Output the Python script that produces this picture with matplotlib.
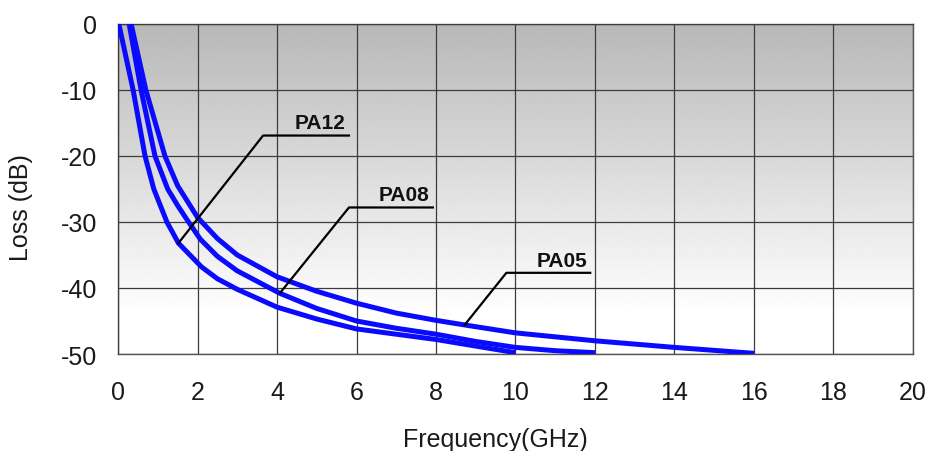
import numpy as np
import matplotlib
matplotlib.use("Agg")
import matplotlib.pyplot as plt

plt.rcParams['font.family'] = ['Liberation Sans', 'DejaVu Sans']
plt.rcParams['axes.unicode_minus'] = False

# Insertion loss vs. frequency for three attenuator parts
pa12_freq = [0.02, 0.38, 0.68, 0.90, 1.23, 1.52, 2.10, 2.50, 3.00, 4.00, 5.00, 6.00, 7.00, 8.00, 9.00, 10.00]
pa12_loss = [0, -10, -20, -25, -30, -33.2, -36.8, -38.6, -40.2, -42.9, -44.7, -46.2, -47.0, -47.8, -48.8, -49.8]

pa08_freq = [0.28, 0.58, 0.93, 1.25, 1.50, 1.73, 2.07, 2.50, 3.00, 4.07, 5.00, 6.00, 7.00, 8.00, 9.00, 10.00, 11.00, 12.00]
pa08_loss = [0, -10, -20, -25, -27.5, -29.6, -32.6, -35.2, -37.4, -40.8, -43.1, -45.0, -46.1, -47.0, -48.1, -49.0, -49.5, -49.8]

pa05_freq = [0.33, 0.70, 1.18, 1.50, 2.00, 2.50, 3.00, 4.00, 5.00, 6.00, 7.00, 8.00, 8.72, 10.00, 12.00, 14.00, 16.00]
pa05_loss = [0, -10, -20, -24.5, -29.3, -32.5, -35.0, -38.3, -40.5, -42.3, -43.8, -44.9, -45.6, -46.8, -48.0, -49.0, -49.9]

series_names = ["PA12", "PA08", "PA05"]

x_ticks = [0, 2, 4, 6, 8, 10, 12, 14, 16, 18, 20]
y_ticks = [0, -10, -20, -30, -40, -50]

fig = plt.figure(figsize=(9.30, 4.52), dpi=100)
ax = fig.add_axes([0.1269, 0.2146, 0.8548, 0.7301])

# vertical grey-to-white background
yy = np.linspace(0, -50, 400)
shade = np.clip(0.72 + (1.0 - 0.72) * (-yy / 44.0), 0, 1.0)
ax.imshow(shade[:, None], extent=[0, 20, -50, 0], aspect='auto', cmap='gray',
          vmin=0, vmax=1, origin='upper', zorder=0, interpolation='bilinear')

ax.set_xlim(0, 20)
ax.set_ylim(-50, 0)
ax.set_xticks(x_ticks)
ax.set_yticks(y_ticks)
ax.grid(True, color='#3c3c3c', linewidth=0.9, zorder=1)
ax.set_axisbelow(False)
ax.tick_params(length=0, colors='#1a1a1a')
ax.tick_params(axis='x', pad=19)
ax.tick_params(axis='y', pad=15)
for lab in ax.get_xticklabels() + ax.get_yticklabels():
    lab.set_family(['Liberation Sans Narrow', 'Liberation Sans', 'DejaVu Sans'])
    lab.set_fontsize(18)
for s in ax.spines.values():
    s.set_color('#555555')
    s.set_linewidth(1.0)

curves = [(pa12_freq, pa12_loss), (pa08_freq, pa08_loss), (pa05_freq, pa05_loss)]
for f, l in curves:
    ax.plot(f, l, color='#0a0aff', linewidth=3.6, solid_capstyle='butt',
            solid_joinstyle='round', zorder=3)

# leader lines: (tip frequency on the curve, elbow x, elbow y, end x)
leaders = [(1.52, 3.65, -16.9, 5.81),
           (4.07, 5.81, -27.8, 7.92),
           (8.72, 9.77, -37.7, 11.88)]
for name, (f, l), (tip, ex, ey, endx) in zip(series_names, curves, leaders):
    ty = np.interp(tip, f, l)
    ax.plot([tip, ex, endx], [ty, ey, ey], color='black', linewidth=1.6, zorder=4)
    ax.text(endx - 0.08, ey + 1.1, name, ha='right', va='baseline',
            fontsize=15, fontweight='bold', color='#111111', zorder=5)

ax.set_xlabel("Frequency(GHz)", fontsize=18, color='#1a1a1a')
ax.set_ylabel("Loss (dB)", fontsize=18, color='#1a1a1a')
ax.xaxis.set_label_coords(0.475, -0.222)
ax.yaxis.set_label_coords(-0.107, 0.448)

fig.savefig("out.png", dpi=100)
